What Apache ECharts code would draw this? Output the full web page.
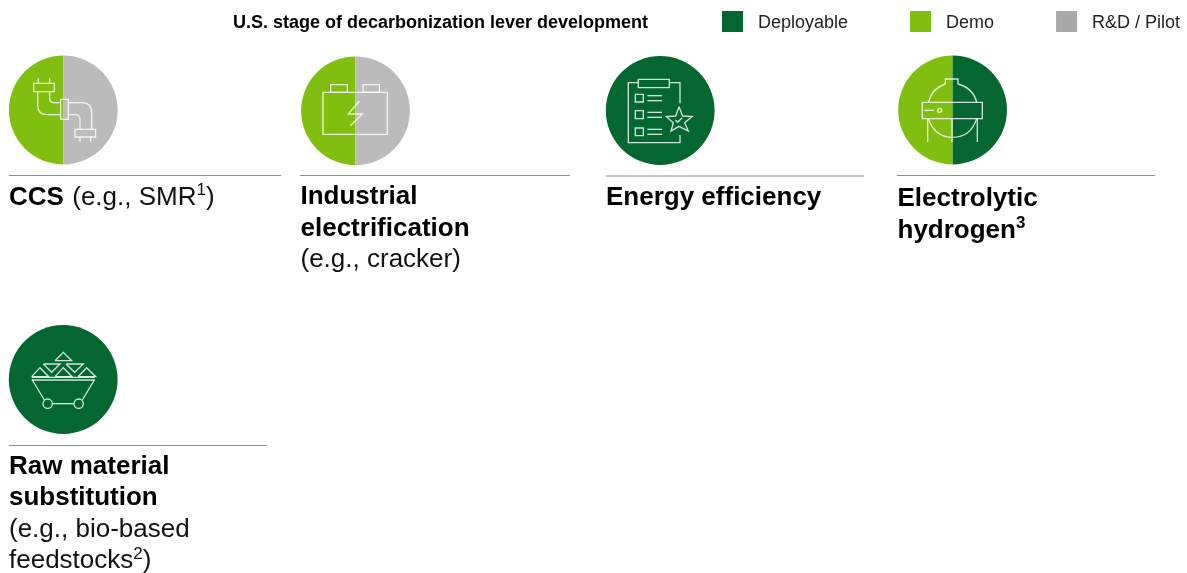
<!DOCTYPE html>
<html><head><meta charset="utf-8">
<style>html,body{margin:0;padding:0;background:#fff}#c{width:1187px;height:573px}</style>
<script src="https://cdn.jsdelivr.net/npm/echarts@6/dist/echarts.min.js"></script>
</head><body><div id="c"></div>
<script>
// ---- data ----
const heading = 'U.S. stage of decarbonization lever development';
const stages = ['Deployable', 'Demo', 'R&D / Pilot'];
const levers = ['CCS', 'Industrial electrification', 'Energy efficiency', 'Electrolytic hydrogen', 'Raw material substitution'];
const deployableShare = [0, 0, 100, 50, 100];
const demoShare = [50, 50, 0, 50, 0];
const rdPilotShare = [50, 50, 0, 0, 0];
const leverLabels = [
  '{b|CCS} {rp|(e.g., SMR}{s|1}{r|)}',
  '{b|Industrial}\n{b|electrification}\n{r|(e.g., cracker)}',
  '{b|Energy efficiency}',
  '{b|Electrolytic}\n{b|hydrogen}{sb|3}',
  '{b|Raw material}\n{b|substitution}\n{r|(e.g., bio-based}\n{r|feedstocks}{s|2}{r|)}'
];

// ---- layout & style ----
const FONT = '"Liberation Sans", Arial, sans-serif';
const DEEP = '#04672f', LIME = '#80bf10', GREY = '#bbbbbb', LEGEND_GREY = '#a8a8a8';
const stageColor = {'Deployable': DEEP, 'Demo': LIME, 'R&D / Pilot': GREY};
const R = 54.4;
const centers = [[63.3, 110], [355.5, 110.8], [660.2, 110.5], [952.6, 110], [63.2, 379.5]];
const rules = [[9, 281, 175.5], [300, 570, 175.5], [606, 864, 176], [897, 1155, 175.5], [9, 267, 445.5]];
const labelPos = [[9, 182], [300.5, 181.5], [606, 182.5], [897.5, 183.5], [9, 451]];
const iconOrigin = [[0, 40], [290, 40], [590, 60], [880, 60], [0, 320]];

// icon primitives are given in 3x units relative to iconOrigin
const S = {stroke: 'rgba(255,255,255,0.82)', fill: 'none', lineWidth: 4, lineJoin: 'miter'};
const rect = (x1, y1, x2, y2) => ({type: 'rect', z: 50, shape: {x: x1, y: y1, width: x2 - x1, height: y2 - y1}, style: S, silent: true});
const pl = (...p) => { const pts = []; for (let i = 0; i < p.length; i += 2) pts.push([p[i], p[i + 1]]); return {type: 'polyline', z: 50, shape: {points: pts}, style: S, silent: true}; };
const q = (x1, y1, cx, cy, x2, y2) => ({type: 'bezierCurve', z: 50, shape: {x1, y1, x2, y2, cpx1: cx, cpy1: cy}, style: S, silent: true});
const circ = (cx, cy, r) => ({type: 'circle', z: 50, shape: {cx, cy, r}, style: S, silent: true});
const icons = [
  [ rect(101,130,163,155), pl(115,115,115,130), pl(149,115,149,130),
    pl(113,155,113,195), q(113,195,113,224,142,224), pl(142,224,182,224),
    pl(149,155,149,175), q(149,175,149,188,162,188), pl(162,188,182,188),
    rect(182,178,205,238), pl(205,188,245,188), q(245,188,275,188,275,218), pl(275,218,275,268),
    pl(205,224,225,224), q(225,224,240,224,240,239), pl(240,239,240,268),
    rect(225,268,287,291), pl(240,291,240,305), pl(272,291,272,305) ],
  [ rect(99,157,292,283), rect(122,134,172,157), rect(219,134,268,157), pl(208,183,175,222,217,222,181,257) ],
  [ rect(145,58,238,83), pl(145,68,115,68,115,248,270,248,270,225), pl(238,68,270,68,270,130),
    rect(136,103,160,126), rect(136,152,160,176), rect(136,204,160,227),
    pl(172,107,216,107), pl(172,122,216,122), pl(172,157,216,157), pl(172,172,216,172), pl(172,208,216,208), pl(172,223,216,223),
    pl(267,140,278,168,306,170,284,188,295,213,267,199,243,213,250,188,229,170,257,168,267,140), pl(256,180,263,187,276,174) ],
  [ pl(196,72,196,57,234,57,234,72), q(145,127,155,85,196,72), q(234,72,280,85,290,127),
    rect(127,127,307,176), pl(133,151,162,151), circ(179,151,6),
    q(145,176,165,232,218,232), q(218,232,272,232,290,176),
    pl(143,176,143,246), pl(292,176,292,246), pl(216,176,216,246) ],
  [ pl(95,172,285,172), pl(95,180,285,180), pl(97,180,133,240), pl(283,180,247,240), pl(158,251,221,251), circ(143,251,14), circ(236,251,14),
    pl(165,122,190,97,215,122,165,122), pl(130,132,180,132,155,157,130,132), pl(198,132,250,132,224,157,198,132),
    pl(95,170,120,143,146,170,95,170), pl(165,170,190,143,216,170,165,170), pl(234,170,260,143,287,170,234,170) ]
];

const pieSeries = levers.map((name, i) => {
  const vals = {'Demo': demoShare[i], 'Deployable': deployableShare[i], 'R&D / Pilot': rdPilotShare[i]};
  return {
    type: 'pie', name, center: centers[i], radius: [0, R], startAngle: 90, clockwise: false,
    silent: true, label: {show: false}, labelLine: {show: false}, emphasis: {disabled: true},
    data: ['Demo', 'Deployable', 'R&D / Pilot'].map(s => ({name: s, value: vals[s], itemStyle: {color: stageColor[s]}}))
  };
});

const graphics = [];
rules.forEach(([x1, x2, y]) => graphics.push({type: 'line', silent: true, shape: {x1, y1: y, x2, y2: y}, style: {stroke: '#8c8c8c', lineWidth: 1}}));
labelPos.forEach(([x, y], i) => graphics.push({
  type: 'text', x, y, silent: true,
  style: {text: leverLabels[i], fontFamily: FONT, fill: '#000', rich: {
    b: {fontFamily: FONT, fontSize: 26, fontWeight: 'bold', lineHeight: 31.5, fill: '#000'},
    r: {fontFamily: FONT, fontSize: 26, lineHeight: 31.5, fill: '#111'},
    rp: {fontFamily: FONT, fontSize: 26, lineHeight: 31.5, fill: '#111', padding: [0, 0, 0, 5]},
    s: {fontFamily: FONT, fontSize: 17, lineHeight: 20, verticalAlign: 'top', fill: '#111'},
    sb: {fontFamily: FONT, fontSize: 17, fontWeight: 'bold', lineHeight: 20, verticalAlign: 'top', fill: '#000'}
  }}
}));
icons.forEach((children, i) => graphics.push({
  type: 'group', x: iconOrigin[i][0], y: iconOrigin[i][1], scaleX: 1 / 3, scaleY: 1 / 3, silent: true, z: 50, children
}));

const chart = echarts.init(document.getElementById('c'), null, {renderer: 'canvas'});
chart.setOption({
  animation: false,
  backgroundColor: '#fff',
  title: {text: heading, left: 233, top: 14, padding: 0, textStyle: {fontFamily: FONT, fontSize: 18, fontWeight: 'bold', color: '#000'}},
  legend: {
    left: 722, top: 11, width: 465, padding: 0, itemWidth: 21, itemHeight: 21, itemGap: 62, selectedMode: false, icon: 'rect',
    formatter: n => '{t|' + n + '}',
    textStyle: {fontFamily: FONT, fontSize: 18, color: '#222', rich: {t: {fontFamily: FONT, fontSize: 18, color: '#222', padding: [4, 0, 0, 10]}}},
    data: stages.map(s => ({name: s, itemStyle: {color: s === 'R&D / Pilot' ? LEGEND_GREY : stageColor[s]}}))
  },
  series: pieSeries,
  graphic: graphics
});
</script></body></html>
